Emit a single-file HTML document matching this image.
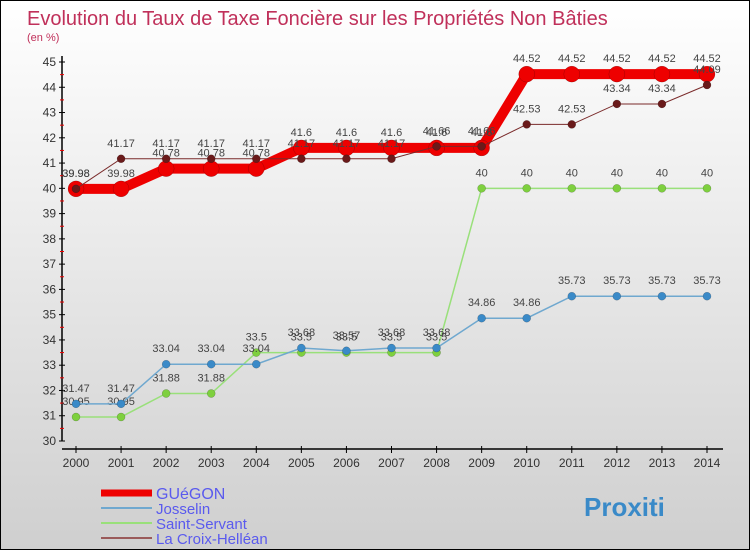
<!DOCTYPE html>
<html><head><meta charset="utf-8"><style>
body{margin:0;}
#c{width:750px;height:550px;position:relative;box-sizing:border-box;border:1px solid #000;background:linear-gradient(#ffffff,#cfcfcf);font-family:"Liberation Sans",sans-serif;overflow:hidden}
svg text{font-family:"Liberation Sans",sans-serif}
</style></head><body>
<div id="c">
<svg id="s" width="750" height="550">
<text x="26" y="24" font-size="20" fill="#c0305a">Evolution du Taux de Taxe Foncière sur les Propriétés Non Bâties</text>
<text x="26" y="40" font-size="11" fill="#c0305a">(en %)</text>
</svg>
</div>
<script>
const years=[2000,2001,2002,2003,2004,2005,2006,2007,2008,2009,2010,2011,2012,2013,2014];
const yTicks=[30,31,32,33,34,35,36,37,38,39,40,41,42,43,44,45];
const gueGon=[39.98,39.98,40.78,40.78,40.78,41.6,41.6,41.6,41.6,41.6,44.52,44.52,44.52,44.52,44.52];
const josselin=[31.47,31.47,33.04,33.04,33.04,33.68,33.57,33.68,33.68,34.86,34.86,35.73,35.73,35.73,35.73];
const saintServant=[30.95,30.95,31.88,31.88,33.5,33.5,33.5,33.5,33.5,40,40,40,40,40,40];
const laCroix=[39.98,41.17,41.17,41.17,41.17,41.17,41.17,41.17,41.66,41.66,42.53,42.53,43.34,43.34,44.09];
const seriesNames=["GUéGON","Josselin","Saint-Servant","La Croix-Helléan"];
const NS="http://www.w3.org/2000/svg";
const svg=document.getElementById('s');
const X=i=>75+i*(706-75)/(years.length-1);
const Y=v=>440-(v-30)*(440-61)/15;
function el(t,a,p){const e=document.createElementNS(NS,t);for(const k in a)e.setAttribute(k,a[k]);(p||svg).appendChild(e);return e;}
let ax=el('line',{x1:61,y1:55,x2:61,y2:440,stroke:'#000','stroke-width':1.5});


let ax2=el('line',{x1:61,y1:448,x2:722,y2:448,stroke:'#000','stroke-width':1.5});


yTicks.forEach(v=>{
 el('line',{x1:58,y1:Y(v),x2:64,y2:Y(v),stroke:'#000'});
 if(v<45) el('line',{x1:59,y1:Y(v+0.5),x2:63,y2:Y(v+0.5),stroke:'#e00'});
 const t=el('text',{x:55,y:Y(v)+4,'font-size':12,'text-anchor':'end',fill:'#333'});t.textContent=v;
 
 
});
years.forEach((y,i)=>{
 el('line',{x1:X(i),y1:445,x2:X(i),y2:452,stroke:'#000'});
 const t=el('text',{x:X(i),y:466,'font-size':12,'text-anchor':'middle',fill:'#333'});t.textContent=y;
 
 
});
function series(vals,color,lw,r,dot,name){
 const g=el('g',{});
 
 
 el('polyline',{points:vals.map((v,i)=>X(i)+','+Y(v)).join(' '),fill:'none',stroke:color,'stroke-width':lw},g);
 vals.forEach((v,i)=>{
  const c=el('circle',{cx:X(i),cy:Y(v),r:r,fill:dot,stroke:'rgba(0,0,0,0.3)','stroke-width':0.5},g);
  
  
  const t=el('text',{x:X(i),y:Y(v)-12,'font-size':11,'text-anchor':'middle',fill:'#444'},g);t.textContent=v;
 });
}
series(saintServant,'#99e07a',1.5,4,'#7ed03e','saint-servant-series');
series(josselin,'#6fa8cf',1.5,4,'#3a8ac8','josselin-series');
series(gueGon,'#ee0000',10,8,'#ee0000','guegon-series');
series(laCroix,'#7a2a2a',1,4,'#6a1a1a','la-croix-series');
const lc=['#ee0000','#6fa8cf','#99e07a','#9a5a5a'],lw=[7,2,2,2];
seriesNames.forEach((n,i)=>{
 const y=492+i*15;
 const l=el('line',{x1:100,y1:y,x2:151,y2:y,stroke:lc[i],'stroke-width':lw[i]});
 
 
 const t=el('text',{x:155,y:y+6,'font-size':i==0?16:15,fill:'#5a5aee'});t.textContent=n;
 
 
});
const p=el('text',{x:583,y:515,'font-size':26,'font-weight':'bold',fill:'#3a8ac8'});p.textContent='Proxiti';


</script>
</body></html>
